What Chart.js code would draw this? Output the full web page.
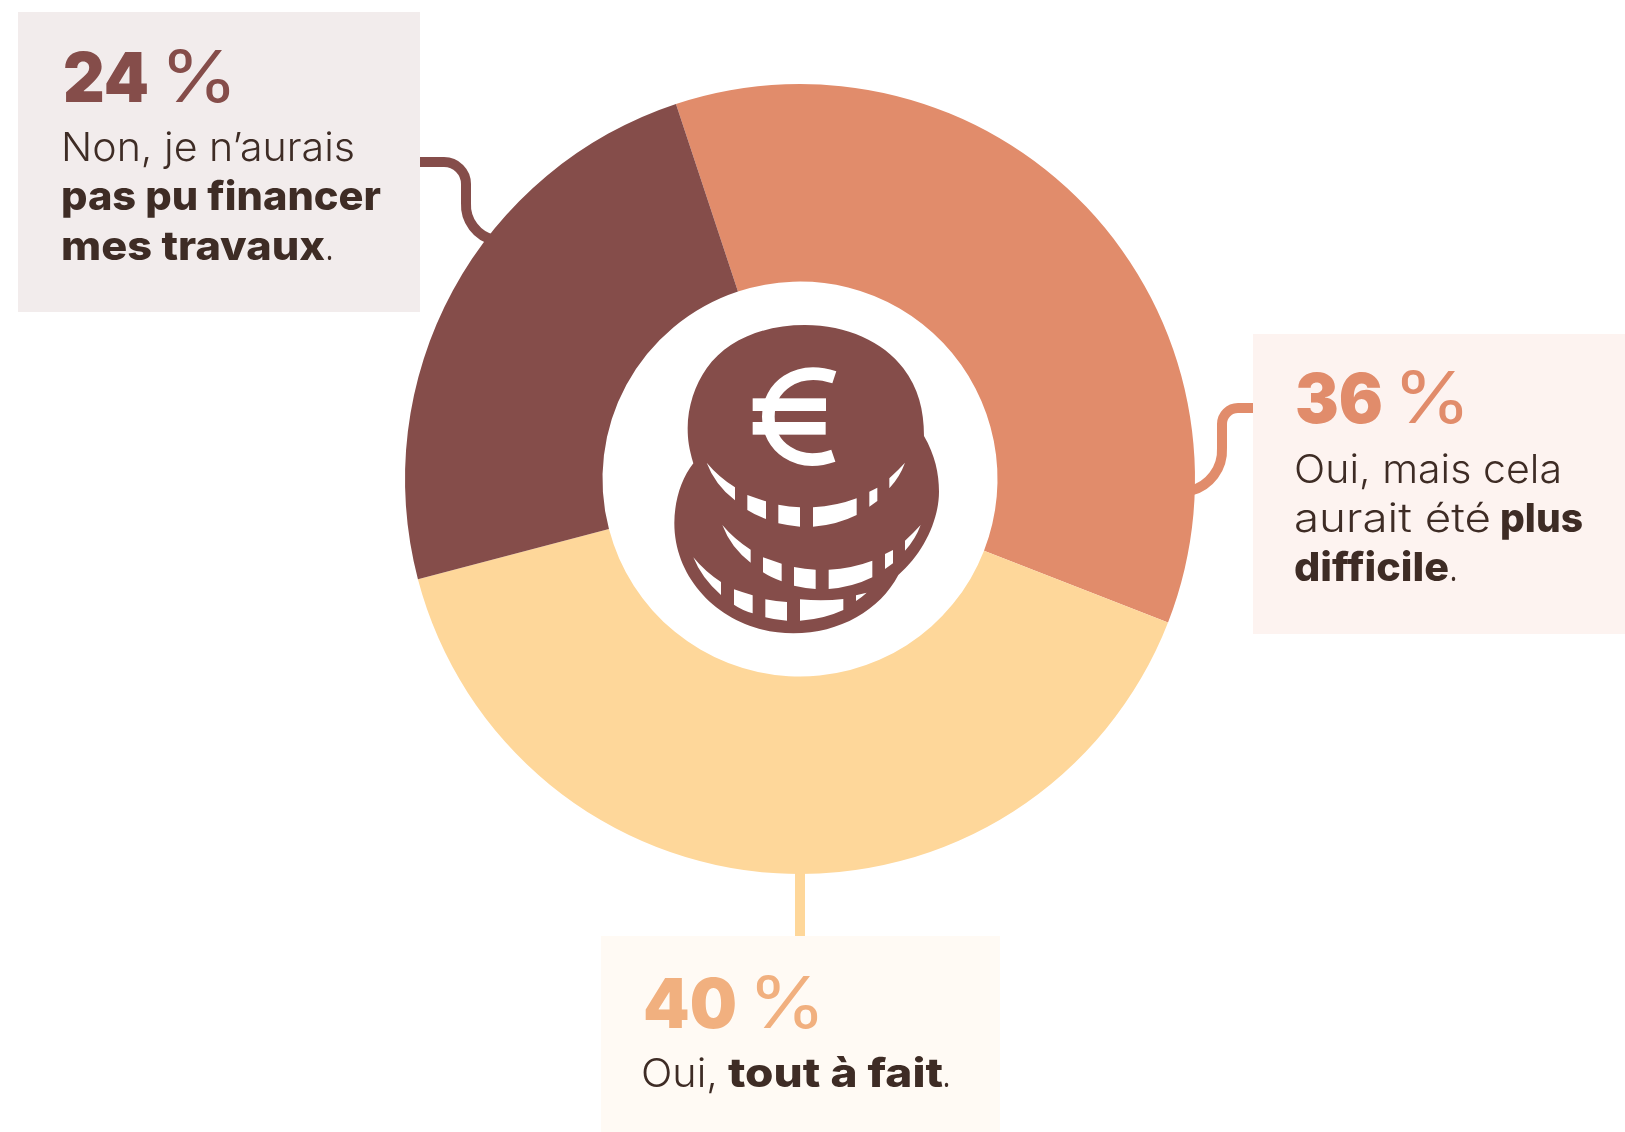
<!DOCTYPE html>
<html lang="fr"><head><meta charset="utf-8">
<script src="https://cdn.jsdelivr.net/npm/chart.js@4/dist/chart.umd.js"></script>
<style>
html,body{margin:0;padding:0;background:#fff;width:1625px;height:1132px;overflow:hidden}
#stage{position:relative;width:1625px;height:1132px}
#stage>*{position:absolute;left:0;top:0}
svg text{font-family:Inter,"Noto Sans",sans-serif}
</style></head><body>
<div id="stage">
<svg id="under" width="1625" height="1132" viewBox="0 0 1625 1132" fill="none"></svg>
<canvas id="c" width="1625" height="1132" style="width:1625px;height:1132px"></canvas>
<svg id="over" width="1625" height="1132" viewBox="0 0 1625 1132"></svg>
</div>
<script>
const categories = ["Oui, mais cela aurait été plus difficile.", "Oui, tout à fait.", "Non, je n’aurais pas pu financer mes travaux."];
const values = [36, 40, 24];
const sliceColors = ["#E18C6B", "#FED79A", "#854D4A"];

new Chart(document.getElementById('c'), {
  type: 'doughnut',
  data: { labels: categories, datasets: [{ data: values, backgroundColor: sliceColors, borderWidth: 0, hoverOffset: 0 }] },
  options: {
    responsive: false, animation: false, cutout: '50%', rotation: -18.3,
    layout: { padding: { left: 405, right: 430, top: 84, bottom: 258 } },
    plugins: { legend: { display: false }, tooltip: { enabled: false } }
  }
});

const NS = 'http://www.w3.org/2000/svg';
function el(parent, tag, attrs, txt) {
  const e = document.createElementNS(NS, tag);
  for (const k in attrs) e.setAttribute(k, attrs[k]);
  if (txt !== undefined) e.textContent = txt;
  parent.appendChild(e); return e;
}
const under = document.getElementById('under'), over = document.getElementById('over');

// connectors
[["M420 162H444A22 22 0 0 1 466 184V203A36 36 0 0 0 494 240", "#854D4A"],
 ["M1253 408H1238A16 16 0 0 0 1222 424V448A42 42 0 0 1 1190 491", "#E18C6B"],
 ["M800 870V940", "#FED79A"]].forEach(c => el(under, 'path', { d: c[0], stroke: c[1], 'stroke-width': 10 }));

// boxes
[[18, 12, 402, 300, "#F2ECEC"], [1253, 334, 372, 300, "#FDF3F0"], [601, 936, 399, 196, "#FFFAF4"]]
  .forEach(b => el(over, 'rect', { x: b[0], y: b[1], width: b[2], height: b[3], fill: b[4] }));

// text runs: string, x, right edge, baseline, size, weight, colour
const INK = "#3E2C25";
const runs = [
  [values[2] + "", 63, 149, 102, 69, 900, "#854D4A"], ["%", 160, 238, 102, 72, 400, "#854D4A"],
  ["Non, je n’aurais", 61, 355, 161, 40, 300, INK],
  ["pas pu financer", 61, 381, 210, 40, 800, INK],
  ["mes travaux", 61, 325, 260, 40, 800, INK], [".", 325, 334, 260, 40, 300, INK],
  [values[0] + "", 1295, 1383, 423, 69, 900, "#E18C6B"], ["%", 1393, 1471, 423, 72, 400, "#E18C6B"],
  ["Oui, mais cela", 1294, 1562, 483, 40, 300, INK],
  ["aurait été", 1294, 1491, 532, 40, 300, INK], ["plus", 1500, 1583, 532, 40, 800, INK],
  ["difficile", 1294, 1449, 581, 40, 800, INK], [".", 1449, 1458, 581, 40, 300, INK],
  [values[1] + "", 643, 737, 1028, 69, 900, "#F1B07F"], ["%", 748, 826, 1028, 72, 400, "#F1B07F"],
  ["Oui,", 641, 718, 1087, 40, 300, INK],
  ["tout à fait", 728, 943, 1087, 40, 800, INK], [".", 942, 951, 1087, 40, 300, INK]
];
runs.forEach(r => el(over, 'text', { x: r[1], y: r[3], 'font-size': r[4], 'font-weight': r[5], fill: r[6], textLength: r[2] - r[1], lengthAdjust: 'spacingAndGlyphs' }, r[0]));

// coin icon (drawn in a 3x grid mapped on to the centre of the ring)
const icon = el(over, 'g', { transform: 'translate(640 300) scale(.33333)' });
el(icon, 'path', { fill: '#854D4A', d: 'M160 490C147 445 143 420 143 385C143 320 165 255 200 205C260 120 370 75 495 75C620 75 730 125 790 205C835 265 852 330 852 408C885 465 897 520 897 575C897 660 850 760 775 825C720 930 600 1000 460 1000C260 1000 103 850 103 670C103 600 125 535 160 490Z' });
const band = [
  'M200 488Q235 530 285 562V601Q225 555 200 488Z',
  'M322 585Q350 595 378 604V657Q345 645 322 630Z',
  'M415 614Q448 620 480 622V680Q445 677 415 670Z',
  'M519 622Q590 618 650 595V645Q590 675 519 680Z',
  'M688 575L712 563V603L688 620Z',
  'M748 535Q775 510 795 488Q780 530 748 565Z'
].join('');
el(icon, 'path', { fill: '#fff', d: band });
el(icon, 'path', { fill: '#fff', d: band, transform: 'translate(47 187)' });
el(icon, 'path', { fill: '#fff', d: 'M160 772Q195 815 243 846V885Q185 835 160 772ZM282 868Q310 878 338 886V940Q305 930 282 914ZM376 898Q408 904 441 906V962Q405 960 376 952ZM480 898Q550 904 610 897V930Q550 958 480 962ZM648 886L680 878Q665 892 648 903Z' });
el(icon, 'path', { fill: 'none', stroke: '#fff', 'stroke-width': 38, d: 'M583 232C470 195 385 260 385 350C385 440 470 505 580 467' });
el(icon, 'rect', { x: 338, y: 295, width: 220, height: 38, fill: '#fff' });
el(icon, 'rect', { x: 338, y: 366, width: 219, height: 38, fill: '#fff' });
</script>
</body></html>
